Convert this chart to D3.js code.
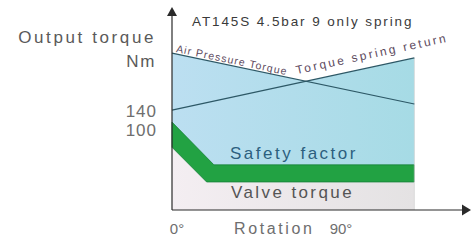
<!DOCTYPE html>
<html>
<head>
<meta charset="utf-8"/>
<script src="https://d3js.org/d3.v7.min.js"></script>
<style>
  body { margin: 0; background: #fff; }
  svg text { font-family: "Liberation Sans", Arial, sans-serif; }
</style>
</head>
<body>
<div id="chart"></div>
<script>
// schematic torque curves, [rotation deg, torque Nm]
var xTicks = [0, 90];
var yTicks = [140, 100];
var airPressure = [[0, 260], [133, 153]];
var springReturn = [[0, 140], [133, 250]];
var safetyFactor = [[0, 115], [23, 25], [133, 25]];
var valveTorque = [[0, 62], [19, -11], [133, -11]];
var xMax = 133, yMin = -70, yMax = 355;

var width = 471, height = 243;

var x = d3.scaleLinear().domain([0, 90]).range([172, 336]);
var y = d3.scaleLinear().domain([yMin, yMax]).range([210, 8]);

var svg = d3.select("#chart").append("svg")
    .attr("width", width)
    .attr("height", height);

var defs = svg.append("defs");
var blueGrad = defs.append("linearGradient").attr("id", "blue")
    .attr("gradientUnits", "userSpaceOnUse")
    .attr("x1", x(0)).attr("x2", x(xMax)).attr("y1", 0).attr("y2", 0);
blueGrad.append("stop").attr("offset", "0%").attr("stop-color", "#bcdff1");
blueGrad.append("stop").attr("offset", "100%").attr("stop-color", "#a6dbe5");

var greyGrad = defs.append("linearGradient").attr("id", "grey")
    .attr("gradientUnits", "userSpaceOnUse")
    .attr("x1", x(0)).attr("x2", x(xMax)).attr("y1", 0).attr("y2", 0);
greyGrad.append("stop").attr("offset", "0%").attr("stop-color", "#f4eef2");
greyGrad.append("stop").attr("offset", "100%").attr("stop-color", "#e4e2e3");

var line = d3.line()
    .x(function(d){ return x(d[0]); })
    .y(function(d){ return y(d[1]); });

function poly(top, bottom){
    return line(top.concat(bottom.slice().reverse())) + "Z";
}

// blue band: under each torque line down to the safety line
svg.append("path").attr("d", poly(airPressure, safetyFactor)).attr("fill", "url(#blue)");
svg.append("path").attr("d", poly(springReturn, safetyFactor)).attr("fill", "url(#blue)");

// valve torque area
var base = [[0, yMin], [xMax, yMin]];
svg.append("path").attr("d", poly(valveTorque, base)).attr("fill", "url(#grey)");

// safety factor green band
svg.append("path").attr("d", poly(safetyFactor, valveTorque))
    .attr("fill", "#22a243")
    .attr("stroke", "#17803a")
    .attr("stroke-width", 0.8);

svg.append("line")
    .attr("x1", x(xMax)).attr("x2", x(xMax))
    .attr("y1", y(d3.max([airPressure[1][1], springReturn[1][1]]))).attr("y2", y(yMin))
    .attr("stroke", "#d8d8d8").attr("stroke-width", 0.8);

[airPressure, springReturn].forEach(function(d){
    svg.append("path").attr("d", line(d))
        .attr("fill", "none")
        .attr("stroke", "#2d5866")
        .attr("stroke-width", 1.2);
});

// labels along the lines
function angleOf(d){
    return Math.atan2(y(d[1][1]) - y(d[0][1]), x(d[1][0]) - x(d[0][0])) * 180 / Math.PI;
}
function yAt(d, deg){
    var t = (deg - d[0][0]) / (d[1][0] - d[0][0]);
    return d[0][1] + t * (d[1][1] - d[0][1]);
}
var a1 = angleOf(airPressure);
svg.append("text")
    .attr("transform", "translate(" + x(2) + "," + (y(yAt(airPressure, 2)) - 2) + ") rotate(" + a1 + ")")
    .attr("font-size", 10.5).attr("letter-spacing", 1.1)
    .attr("fill", "#5d4a5e")
    .text("Air Pressure Torque");
var a2 = angleOf(springReturn);
svg.append("text")
    .attr("transform", "translate(" + x(68.5) + "," + (y(yAt(springReturn, 68.5)) - 9) + ") rotate(" + a2 + ")")
    .attr("font-size", 12).attr("letter-spacing", 2.4)
    .attr("fill", "#5d4a5e")
    .text("Torque spring return");

// axes with arrows
var axisColor = "#2a2a2a";
svg.append("line")
    .attr("x1", x(0)).attr("x2", x(0))
    .attr("y1", y(yMin)).attr("y2", 14)
    .attr("stroke", axisColor).attr("stroke-width", 1.2);
svg.append("path")
    .attr("d", "M" + x(0) + ",7 L" + (x(0) - 5) + ",16 L" + (x(0) + 5) + ",16Z")
    .attr("fill", axisColor);
svg.append("line")
    .attr("x1", x(0)).attr("x2", 463)
    .attr("y1", y(yMin)).attr("y2", y(yMin))
    .attr("stroke", axisColor).attr("stroke-width", 1.2);
svg.append("path")
    .attr("d", "M471," + y(yMin) + " L462," + (y(yMin) - 5.5) + " L462," + (y(yMin) + 5.5) + "Z")
    .attr("fill", axisColor);

var tickColor = "#6e6e6e";
svg.selectAll(".ytick").data(yTicks).enter().append("text")
    .attr("class", "ytick")
    .attr("x", 157)
    .attr("y", function(d){ return y(d) + 7; })
    .attr("text-anchor", "end")
    .attr("font-size", 17).attr("letter-spacing", 1)
    .attr("fill", tickColor)
    .text(function(d){ return d; });

svg.selectAll(".xtick").data(xTicks).enter().append("text")
    .attr("class", "xtick")
    .attr("x", function(d){ return x(d) + 5; })
    .attr("y", 234)
    .attr("text-anchor", "middle")
    .attr("font-size", 15)
    .attr("fill", tickColor)
    .text(function(d){ return d + "°"; });

svg.append("text").attr("x", 234).attr("y", 234)
    .attr("font-size", 16).attr("letter-spacing", 2.6)
    .attr("fill", tickColor).text("Rotation");

svg.append("text").attr("x", 156).attr("y", 43)
    .attr("text-anchor", "end")
    .attr("font-size", 17).attr("letter-spacing", 2.6)
    .attr("fill", "#5a5a5a").text("Output torque");
svg.append("text").attr("x", 156).attr("y", 67)
    .attr("text-anchor", "end")
    .attr("font-size", 17).attr("letter-spacing", 1.6)
    .attr("fill", "#5a5a5a").text("Nm");

svg.append("text").attr("x", 192).attr("y", 26)
    .attr("font-size", 13.5).attr("letter-spacing", 1.9)
    .attr("fill", "#3a3a3a").text("AT145S 4.5bar 9 only spring");

svg.append("text").attr("x", 230).attr("y", 159)
    .attr("font-size", 17).attr("letter-spacing", 2.5)
    .attr("fill", "#2c5f7e").text("Safety factor");
svg.append("text").attr("x", 231).attr("y", 198)
    .attr("font-size", 17).attr("letter-spacing", 2.4)
    .attr("fill", "#555").text("Valve torque");
</script>
</body>
</html>
